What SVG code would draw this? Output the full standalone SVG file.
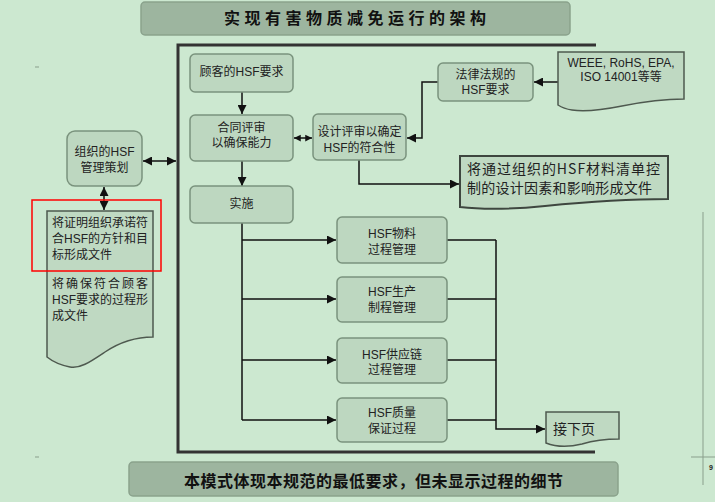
<svg xmlns="http://www.w3.org/2000/svg" width="715" height="502" viewBox="0 0 715 502">
<defs>
<style>
.bg{fill:#cce8d0}
.bar{fill:#9db59f;stroke:#8aa28c;stroke-width:1.5}
.box{fill:#bdd7c0;stroke:#7a937d;stroke-width:1.5}
.doc{fill:#bfd9c2;stroke:#4e594f;stroke-width:1.5}
.doc2{fill:#bfd9c2;stroke:#3e463f;stroke-width:2}
.t{font-family:"Liberation Sans","Noto Sans CJK SC",sans-serif;font-size:12px;fill:#222;text-anchor:middle}
.tl{font-family:"Liberation Sans","Noto Sans CJK SC",sans-serif;font-size:12px;fill:#222}
.tb{font-family:"Noto Sans CJK SC",sans-serif;font-size:16px;font-weight:bold;fill:#111}
.td{font-family:"Noto Sans CJK SC",sans-serif;font-size:14px;fill:#222}
.c{fill:none;stroke:#111;stroke-width:1.5}
.frame{fill:none;stroke:#333;stroke-width:3}
</style>
<marker id="ah" viewBox="0 0 10 10" refX="10" refY="5" markerWidth="6" markerHeight="6" orient="auto-start-reverse" markerUnits="strokeWidth">
<path d="M0,0 L10,5 L0,10 Z" fill="#111"/>
</marker>
<marker id="ahs" viewBox="0 0 10 10" refX="10" refY="5" markerWidth="4.5" markerHeight="5" orient="auto-start-reverse" markerUnits="strokeWidth">
<path d="M0,0 L10,5 L0,10 Z" fill="#111"/>
</marker>
</defs>
<rect class="bg" x="0" y="0" width="715" height="502"/>

<!-- page artifacts -->
<g id="artifacts" stroke="#8a9f8c" stroke-width="1">
<line x1="703" y1="212" x2="703" y2="485"/>
<line x1="691" y1="457" x2="715" y2="457"/>
<line x1="35" y1="67" x2="39" y2="67"/>
<line x1="35" y1="457" x2="39" y2="457"/>
</g>
<text x="709" y="470" font-family="Liberation Sans,sans-serif" font-size="7" font-weight="bold" fill="#222">9</text>

<g id="title">
<rect class="bar" x="141" y="2" width="429" height="33" rx="4"/>
<text class="tb" x="224" y="24" textLength="262" lengthAdjust="spacing">实现有害物质减免运行的架构</text>
</g>

<g id="frame">
<polyline class="frame" points="596,45 178,45 178,452 595,452"/>
</g>

<g id="connectors">
<line class="c" x1="242" y1="92" x2="242" y2="114" marker-end="url(#ah)"/>
<line class="c" x1="242" y1="161" x2="242" y2="186" marker-end="url(#ah)"/>
<line class="c" x1="294" y1="138" x2="312" y2="138" marker-start="url(#ahs)" marker-end="url(#ahs)"/>
<line class="c" x1="558" y1="82" x2="534" y2="82" marker-end="url(#ah)"/>
<polyline class="c" points="438,82 422,82 422,138 407,138" marker-end="url(#ah)"/>
<polyline class="c" points="359,160 359,184 459,184" marker-end="url(#ah)"/>
<line class="c" x1="143" y1="161" x2="176" y2="161" marker-start="url(#ah)" marker-end="url(#ah)"/>
<line class="c" x1="104" y1="187" x2="104" y2="210" marker-start="url(#ah)" marker-end="url(#ah)"/>
<polyline class="c" points="242,223 242,420"/>
<line class="c" x1="242" y1="240" x2="336" y2="240" marker-end="url(#ah)"/>
<line class="c" x1="242" y1="299" x2="336" y2="299" marker-end="url(#ah)"/>
<line class="c" x1="242" y1="360" x2="336" y2="360" marker-end="url(#ah)"/>
<line class="c" x1="242" y1="420" x2="336" y2="420" marker-end="url(#ah)"/>
<line class="c" x1="447" y1="240" x2="496" y2="240"/>
<line class="c" x1="447" y1="299" x2="496" y2="299"/>
<line class="c" x1="447" y1="360" x2="496" y2="360"/>
<line class="c" x1="447" y1="420" x2="496" y2="420"/>
<polyline class="c" points="496,240 496,429 545,429" marker-end="url(#ah)"/>
</g>

<g id="customer">
<rect class="box" x="190" y="54" width="103" height="38" rx="5"/>
<text class="t" x="241.5" y="76">顾客的HSF要求</text>
</g>
<g id="contract">
<rect class="box" x="190" y="115" width="103" height="46" rx="5"/>
<text class="t" x="241.5" y="132">合同评审</text>
<text class="t" x="241.5" y="147">以确保能力</text>
</g>
<g id="design">
<rect class="box" x="313" y="114" width="93" height="46" rx="5"/>
<text class="t" x="359.5" y="136">设计评审以确定</text>
<text class="t" x="359.5" y="152">HSF的符合性</text>
</g>
<g id="legal">
<rect class="box" x="438" y="63" width="95" height="38" rx="5"/>
<text class="t" x="485.5" y="79">法律法规的</text>
<text class="t" x="485.5" y="94">HSF要求</text>
</g>
<g id="weee">
<path class="doc" d="M558,52 H684 V99 C662,99 642,102 622,106 C602,110 585,112 572,110 C565,109 561,107 558,105 Z"/>
<text class="t" x="621" y="67">WEEE, RoHS, EPA,</text>
<text class="t" x="621" y="81">ISO 14001等等</text>
</g>
<g id="bom">
<path class="doc2" d="M460,156 H668 V199 C625,199 585,202 545,206 C515,209 485,210 460,207 Z"/>
<text class="td" x="467" y="174" textLength="193" lengthAdjust="spacing">将通过组织的HSF材料清单控</text>
<text class="td" x="467" y="193" textLength="185" lengthAdjust="spacing">制的设计因素和影响形成文件</text>
</g>
<g id="planning">
<rect class="box" x="67" y="131" width="75" height="55" rx="8"/>
<text class="t" x="104.5" y="156">组织的HSF</text>
<text class="t" x="104.5" y="172">管理策划</text>
</g>
<g id="policy-doc">
<path class="doc" d="M47,211 H153 V337 C135,337 120,342 105,352 C90,362 80,369 70,367 C60,365 52,361 47,357 Z"/>
<text class="tl" x="52" y="227" textLength="96" lengthAdjust="spacing">将证明组织承诺符</text>
<text class="tl" x="52" y="243" textLength="96" lengthAdjust="spacing">合HSF的方针和目</text>
<text class="tl" x="52" y="259">标形成文件</text>
<text class="tl" x="52" y="288" textLength="96" lengthAdjust="spacing">将确保符合顾客</text>
<text class="tl" x="52" y="304" textLength="96" lengthAdjust="spacing">HSF要求的过程形</text>
<text class="tl" x="52" y="320">成文件</text>
</g>
<rect id="highlight" x="32" y="200" width="129" height="71" fill="none" stroke="#ff0000" stroke-width="1.5"/>
<g id="implement">
<rect class="box" x="190" y="186" width="103" height="37" rx="5"/>
<text class="t" x="241.5" y="208">实施</text>
</g>
<g id="material">
<rect class="box" x="337" y="217" width="110" height="46" rx="5"/>
<text class="t" x="392" y="238">HSF物料</text>
<text class="t" x="392" y="254">过程管理</text>
</g>
<g id="production">
<rect class="box" x="337" y="277" width="110" height="45" rx="5"/>
<text class="t" x="392" y="296">HSF生产</text>
<text class="t" x="392" y="312">制程管理</text>
</g>
<g id="supply">
<rect class="box" x="337" y="338" width="110" height="45" rx="5"/>
<text class="t" x="392" y="359">HSF供应链</text>
<text class="t" x="392" y="374">过程管理</text>
</g>
<g id="quality">
<rect class="box" x="337" y="398" width="110" height="44" rx="5"/>
<text class="t" x="392" y="417">HSF质量</text>
<text class="t" x="392" y="433">保证过程</text>
</g>
<g id="nextpage">
<path class="doc" d="M546,412 H619 V439 C602,439 592,441 582,444 C570,447 556,447 546,443 Z"/>
<text class="td" x="553" y="434">接下页</text>
</g>

<g id="footer">
<rect class="bar" x="129" y="462" width="489" height="34" rx="4"/>
<text class="tb" x="184" y="487" textLength="379" lengthAdjust="spacing">本模式体现本规范的最低要求，但未显示过程的细节</text>
</g>
</svg>
